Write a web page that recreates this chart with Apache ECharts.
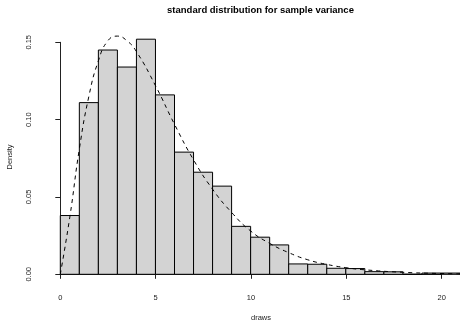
<!DOCTYPE html>
<html>
<head>
<meta charset="utf-8">
<script src="https://cdn.jsdelivr.net/npm/echarts@6/dist/echarts.min.js"></script>
<style>
  html, body { margin: 0; padding: 0; background: #fff; }
  #chart { width: 460px; height: 321px; }
</style>
</head>
<body>
<div id="chart"></div>
<script>
// histogram bins (width 1) and their densities
const binEdges = [0, 1, 2, 3, 4, 5, 6, 7, 8, 9, 10, 11, 12, 13, 14, 15, 16, 17, 18, 19, 20, 21];
const density = [0.038, 0.111, 0.145, 0.134, 0.152, 0.116, 0.079, 0.066, 0.057, 0.031,
  0.024, 0.019, 0.0067, 0.0065, 0.0039, 0.0037, 0.0017, 0.0016, 0.0001, 0.0008, 0.0008];

// dashed reference density curve
const curveX = [0, 0.5, 1, 1.5, 2, 2.5, 3, 3.5, 4, 5, 6, 7, 8, 9, 10, 11, 12, 13, 14, 15, 16, 18, 20, 21];
const curveY = [0, 0.037, 0.081, 0.115, 0.138, 0.151, 0.154, 0.151, 0.144, 0.122, 0.097, 0.074,
  0.055, 0.040, 0.028, 0.020, 0.014, 0.0094, 0.0064, 0.0043, 0.0029, 0.0013, 0.0005, 0.0003];

const xTicks = [0, 5, 10, 15, 20];
const yTicks = [0, 0.05, 0.10, 0.15];

const FONT = 'Liberation Sans, Arial, sans-serif';
const INK = '#222';

const chart = echarts.init(document.getElementById('chart'));

const bins = density.map((d, i) => [binEdges[i], binEdges[i + 1], d]);
const curve = curveX.map((x, i) => [x, curveY[i]]);

// pixel scale: 19.07 px per x unit, 1546.7 px per density unit
const X0 = 60.3, Y0 = 274.3;
const PX = 19.07, PY = 1546.7;

chart.setOption({
  animation: false,
  grid: [
    // data grid (x 0..21, y 0..0.16)
    { left: X0, top: Y0 - 0.16 * PY, width: 21 * PX, height: 0.16 * PY },
    // axes grid, R-style axes that stop at the last tick
    { left: X0, top: Y0 - 0.15 * PY, width: 20 * PX, height: 0.15 * PY }
  ],
  xAxis: [
    { type: 'value', gridIndex: 0, min: 0, max: 21, show: false },
    {
      type: 'value', gridIndex: 1, min: 0, max: 20, interval: 5, offset: 10,
      axisLine: { show: true, lineStyle: { color: INK, width: 1 } },
      axisTick: { show: true, length: 4.5, lineStyle: { color: INK } },
      axisLabel: { margin: 10, fontSize: 7.5, fontFamily: FONT, color: INK,
        formatter: v => xTicks.includes(v) ? String(v) : '' },
      splitLine: { show: false }
    }
  ],
  yAxis: [
    { type: 'value', gridIndex: 0, min: 0, max: 0.16, show: false },
    {
      type: 'value', gridIndex: 1, min: 0, max: 0.15, interval: 0.05, offset: 16,
      axisLine: { show: true, lineStyle: { color: INK, width: 1 } },
      axisTick: { show: true, length: 5, lineStyle: { color: INK } },
      axisLabel: { margin: 11, fontSize: 7.5, fontFamily: FONT, color: INK, rotate: 90,
        formatter: v => yTicks.some(t => Math.abs(t - v) < 1e-9) ? v.toFixed(2) : '' },
      splitLine: { show: false }
    }
  ],
  graphic: [
    { type: 'text', x: 260.5, y: 10, style: { text: 'standard distribution for sample variance',
      font: 'bold 9.5px ' + FONT, fill: '#000', align: 'center', verticalAlign: 'middle' } },
    { type: 'text', x: 261, y: 318, style: { text: 'draws',
      font: '7.5px ' + FONT, fill: INK, align: 'center', verticalAlign: 'middle' } },
    { type: 'text', x: 10, y: 157, rotation: Math.PI / 2, style: { text: 'Density',
      font: '7.5px ' + FONT, fill: INK, align: 'center', verticalAlign: 'middle' } }
  ],
  series: [
    {
      type: 'custom',
      xAxisIndex: 0, yAxisIndex: 0,
      data: bins,
      clip: false,
      renderItem: (params, api) => {
        const p0 = api.coord([api.value(0), 0]);
        const p1 = api.coord([api.value(1), api.value(2)]);
        return {
          type: 'rect',
          shape: { x: p0[0], y: p1[1], width: p1[0] - p0[0], height: p0[1] - p1[1] },
          style: { fill: '#d3d3d3', stroke: '#000', lineWidth: 1 }
        };
      }
    },
    {
      type: 'line',
      xAxisIndex: 0, yAxisIndex: 0,
      data: curve,
      smooth: true,
      showSymbol: false,
      clip: false,
      lineStyle: { color: '#000', width: 1, type: [4, 4] }
    }
  ]
});
</script>
</body>
</html>
